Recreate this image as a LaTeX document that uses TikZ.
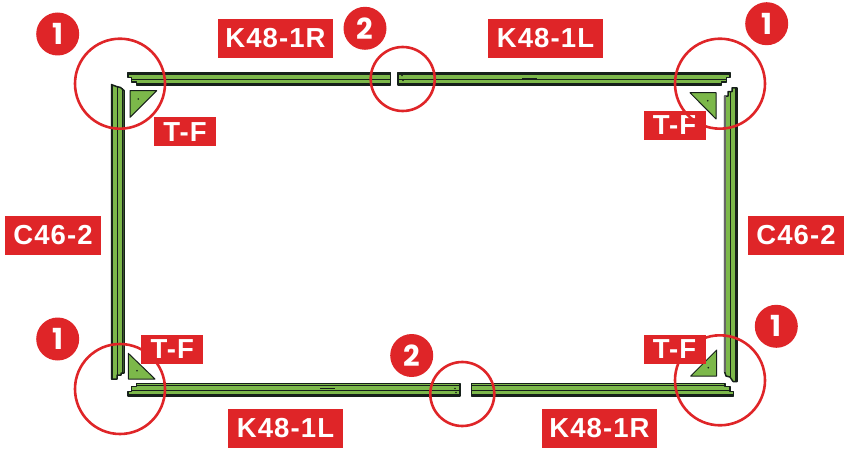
\documentclass[tikz,border=0pt]{standalone}
\usepackage{fontspec}
\newfontfamily\tagfont[LetterSpace=4]{Liberation Sans}
\newfontfamily\numfont{Poppins}
\definecolor{markred}{HTML}{DF2528}
\definecolor{barfill}{HTML}{7CB84A}
\definecolor{barline}{HTML}{16201A}
\tikzset{
    parttag/.style={fill=markred, text=white, inner sep=0pt, minimum height=39pt, font=\tagfont\fontsize{27.5}{27.5}\selectfont\bfseries},
    cornertag/.style={parttag, minimum width=62pt, minimum height=28.5pt},
    sidetag/.style={parttag, minimum width=96pt},
    railtag/.style={parttag, minimum width=115pt},
    badge/.style={circle, fill=markred, text=white, inner sep=0pt, minimum size=43pt, font=\numfont\fontsize{29}{29}\selectfont\bfseries},
    ring/.style={draw=markred, line width=2.6pt},
    rail/.style={draw=barline, fill=barfill, line width=1.5pt, line join=round},
    rib/.style={draw=barline, line width=1.4pt},
    gusset/.style={draw=barline, fill=barfill, line width=1pt, line join=round}
}
\begin{document}
\begin{tikzpicture}[x=1pt,y=-1pt]
    \useasboundingbox (0,0) rectangle (846,452);
    % top rails
    \draw[rail] (127.8,72.6)-- (390.3,72.6)-- (390.3,85)-- (136.7,85)-- (136.7,82)-- (131.7,82)-- (131.7,77.6)-- (127.8,77.6)-- cycle;
    \draw[rib] (127.8,74.2)-- (390.3,74.2);
    \draw[rib] (131.7,79.6)-- (390.3,79.6);
    \draw[rib] (136.7,84)-- (390.3,84);
    \draw[rail] (398,72.6)-- (730,72.6)-- (730,77.6)-- (726.5,77.6)-- (726.5,82)-- (721.7,82)-- (721.7,85)-- (398,85)-- cycle;
    \draw[rib] (398,74.2)-- (730,74.2);
    \draw[rib] (398,79.6)-- (726.5,79.6);
    \draw[rib] (398,84)-- (721.7,84);
    \draw[line width=1.4pt,barline] (522,78.7)-- (537,78.7);
    \fill[barline] (402,75.5) circle (0.8pt);
    \fill[barline] (403,80.5) circle (0.8pt);
    % bottom rails
    \draw[rail] (136.7,383.5)-- (460,383.5)-- (460,396)-- (127.8,396)-- (127.8,391.7)-- (131.7,391.7)-- (131.7,386.7)-- (136.7,386.7)-- cycle;
    \draw[rib] (136.7,385.2)-- (460,385.2);
    \draw[rib] (131.7,390.5)-- (460,390.5);
    \draw[rib] (127.8,395)-- (460,395);
    \draw[rail] (471.7,383.5)-- (725,383.5)-- (725,386.7)-- (730,386.7)-- (730,391.7)-- (733.5,391.7)-- (733.5,396)-- (471.7,396)-- cycle;
    \draw[rib] (471.7,385.2)-- (725,385.2);
    \draw[rib] (471.7,390.5)-- (730,390.5);
    \draw[rib] (471.7,395)-- (733.5,395);
    \draw[line width=1.4pt,barline] (320,388.7)-- (335,388.7);
    \fill[barline] (455,388.5) circle (0.8pt);
    \fill[barline] (456,392.5) circle (0.8pt);
    % side rails
    \draw[rail] (111.5,84.6)-- (116.5,86.5)-- (120.5,87.5)-- (124,90.5)-- (124,373)-- (121,373)-- (121,375)-- (117,375)-- (117,379)-- (111.5,379)-- cycle;
    \draw[rib] (112.6,85)-- (112.6,379);
    \draw[rib] (117.2,86.5)-- (117.2,375);
    \draw[rib] (122.6,88)-- (122.6,373);
    \draw[rail] (737,87.8)-- (732,87.8)-- (732,91.7)-- (728,91.7)-- (728,96)-- (724.6,96)-- (724.6,371.7)-- (726,376)-- (730,377)-- (733,381.5)-- (737,381.5)-- cycle;
    \draw[line width=1.8pt,black!60] (724.6,96)-- (724.6,371.7);
    \draw[rib] (730.5,91.7)-- (730.5,378);
    \draw[rib] (736,87.8)-- (736,381.5);
    % corner gussets
    \draw[gusset] (130,90.7)-- (156.7,90.7)-- (130,117.3)-- cycle;
    \draw[gusset] (690,92.7)-- (716,92.7)-- (716,119)-- cycle;
    \draw[gusset] (128.3,353.3)-- (155,379)-- (128.3,379)-- cycle;
    \draw[gusset] (690.7,376)-- (716.7,350)-- (716.7,376)-- cycle;
    \fill[barline] (138.3,99) circle (0.9pt);
    \fill[barline] (707.7,100.7) circle (0.9pt);
    \fill[barline] (137,370.7) circle (0.9pt);
    \fill[barline] (708.3,367.7) circle (0.9pt);
    % labels
    \node[railtag] (railTL) at (275.5,38.5) {K48-1R};
    \node[railtag] (railTR) at (545.5,38.5) {K48-1L};
    \node[railtag] (railBL) at (285.5,428.5) {K48-1L};
    \node[railtag] (railBR) at (599.5,428.5) {K48-1R};
    \node[sidetag] (sideL) at (53,235.5) {C46-2};
    \node[sidetag] (sideR) at (796,235.5) {C46-2};
    \node[cornertag] (cornerTL) at (185,131.6) {T-F};
    \node[cornertag] (cornerTR) at (674.5,125.5) {T-F};
    \node[cornertag] (cornerBL) at (172.3,349.5) {T-F};
    % badges
    \node[badge] (oneTL) at (57.7,34) {1};
    \node[badge] (oneTR) at (766.7,23.7) {1};
    \node[badge] (oneBL) at (57.7,339) {1};
    \node[badge] (oneBR) at (776.3,326.3) {1};
    \node[badge] (twoT) at (365,28.3) {2};
    \node[badge] (twoB) at (411.7,355.5) {2};
    % rings
    \draw[ring] (120,83.7) circle [radius=45pt];
    \draw[ring] (720,83.7) circle [radius=45pt];
    \draw[ring] (120,389) circle [radius=45pt];
    \draw[ring] (720,380.3) circle [radius=45pt];
    \draw[ring] (402.7,79) circle [radius=32pt];
    \draw[ring] (462.3,394) circle [radius=32pt];
    % this one sits on top of its ring
    \node[cornertag] (cornerBR) at (674.5,349.5) {T-F};
\end{tikzpicture}
\end{document}
